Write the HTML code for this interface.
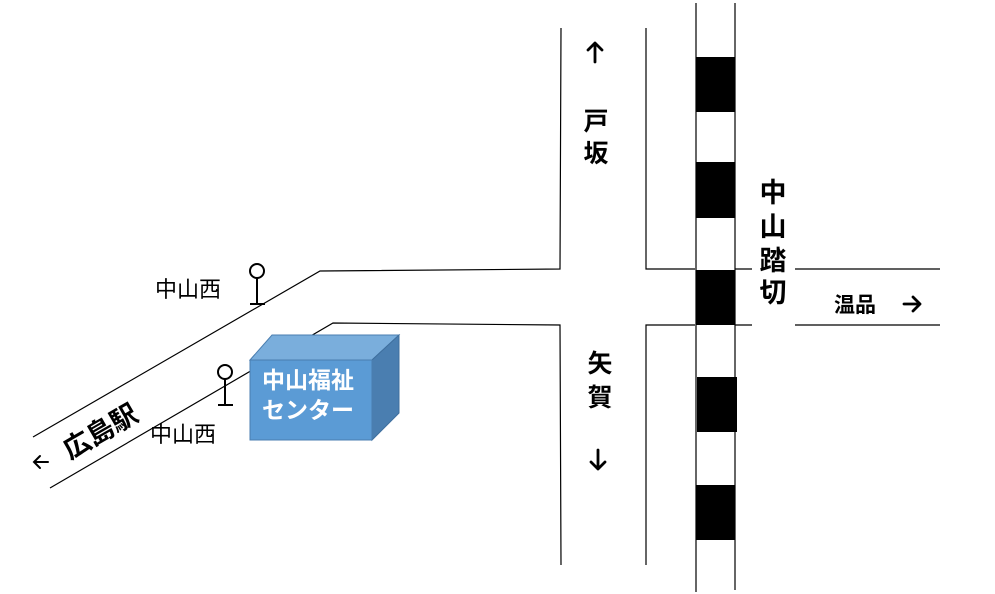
<!DOCTYPE html>
<html><head><meta charset="utf-8"><style>
html,body{margin:0;padding:0;background:#fff;}
svg{display:block;}
text{font-family:"Liberation Sans","Noto Sans CJK JP",sans-serif;}
</style></head><body>
<svg width="995" height="594" viewBox="0 0 995 594" xmlns="http://www.w3.org/2000/svg">
<g stroke="#000" stroke-width="1.2" fill="none">
<polyline points="33,437 320,271 560,269 561,28"/>
<polyline points="50,488 333,323 560,325 561,565"/>
<polyline points="646,28 646,269 695,269"/>
<polyline points="646,565 646,325 695,325"/>
<line x1="735" y1="269" x2="752" y2="269"/>
<line x1="735" y1="325" x2="752" y2="325"/>
<line x1="795" y1="269" x2="940" y2="269"/>
<line x1="795" y1="325" x2="940" y2="325"/>
<line x1="696" y1="3" x2="696" y2="592"/>
<line x1="735" y1="3" x2="735" y2="590"/>
</g>
<g fill="#000">
<rect x="696" y="57" width="39" height="55"/>
<rect x="696" y="162" width="39" height="56"/>
<rect x="696" y="270" width="39" height="55"/>
<rect x="697" y="377" width="40" height="55"/>
<rect x="696" y="485" width="39" height="55"/>
</g>
<g stroke="#000" stroke-width="2" fill="#fff">
<circle cx="257" cy="271" r="7"/>
<line x1="257" y1="278" x2="257" y2="304"/>
<line x1="250" y1="304" x2="265" y2="304"/>
<circle cx="225" cy="372" r="7"/>
<line x1="225" y1="379" x2="225" y2="405"/>
<line x1="218" y1="405" x2="233" y2="405"/>
</g>
<g stroke="#000" stroke-width="2.8" fill="none" stroke-linecap="round" stroke-linejoin="round">
<path d="M595,62 V43 M588,50 L595,43 L602,50"/>
<path d="M598,450 V469 M591,462 L598,469 L605,462"/>
<path d="M904,304 H920 M913,297 L920,304 L913,311"/>
</g>
<path d="M48,462 H34 M40,456 L34,462 L40,468" stroke="#000" stroke-width="2" fill="none" stroke-linecap="round"/>
<polygon points="250,360 272,335 399,335 372,360" fill="#7aaedc" stroke="#4a7eb0" stroke-width="1"/>
<polygon points="372,360 399,335 399,413 372,440" fill="#4a7eb0" stroke="#3f6f9e" stroke-width="1"/>
<rect x="250" y="360" width="122" height="80" fill="#5b9bd5" stroke="#4a7eb0" stroke-width="1"/>
<text x="262" y="388" font-size="23" font-weight="bold" fill="#fff">中山福祉</text>
<text x="262" y="418" font-size="23" font-weight="bold" fill="#fff">センター</text>
<text x="155" y="297" font-size="22">中山西</text>
<text x="150" y="442" font-size="22">中山西</text>
<text transform="translate(70,460) rotate(-30)" font-size="27" font-weight="bold">広島駅</text>
<text x="596" y="130" font-size="25" font-weight="bold" text-anchor="middle">戸</text>
<text x="596" y="162" font-size="25" font-weight="bold" text-anchor="middle">坂</text>
<text x="600" y="372" font-size="25" font-weight="bold" text-anchor="middle">矢</text>
<text x="600" y="406" font-size="25" font-weight="bold" text-anchor="middle">賀</text>
<text x="773" y="202" font-size="27" font-weight="bold" text-anchor="middle">中</text>
<text x="773" y="236" font-size="27" font-weight="bold" text-anchor="middle">山</text>
<text x="773" y="270" font-size="27" font-weight="bold" text-anchor="middle">踏</text>
<text x="773" y="302" font-size="27" font-weight="bold" text-anchor="middle">切</text>
<text x="834" y="312" font-size="21" font-weight="bold">温品</text>
</svg>
</body></html>
